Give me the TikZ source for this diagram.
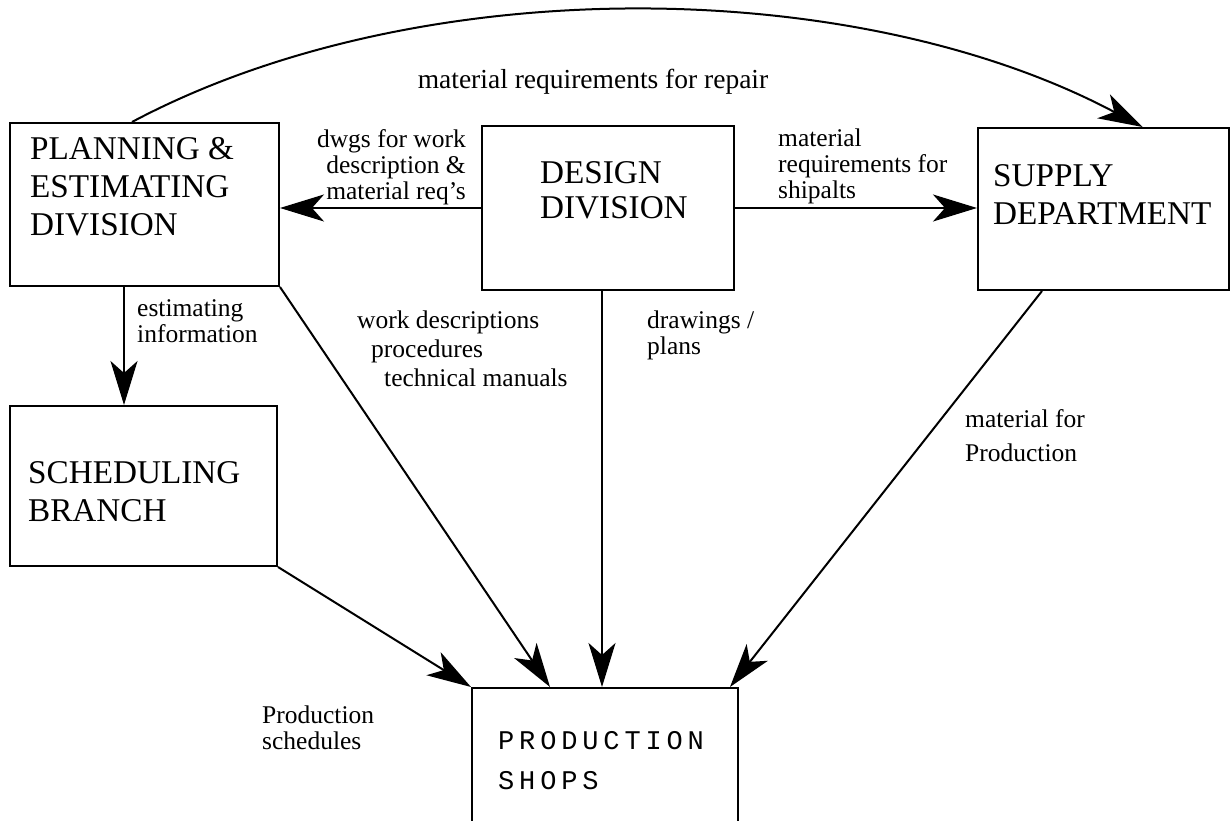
\documentclass[tikz,border=0pt]{standalone}
\usepackage{fontspec}
\setmainfont{Liberation Serif}
\newfontfamily\shopfont{Liberation Mono}[LetterSpace=18]
\usetikzlibrary{arrows.meta}

\begin{document}
\begin{tikzpicture}[x=1pt,y=1pt,
  unit/.style={draw, line width=2pt, inner sep=0pt},
  unittext/.style={font=\fontsize{33.2}{38}\selectfont, align=left,
    inner sep=0pt, anchor=north west},
  shoptext/.style={font=\shopfont\fontsize{27}{40}\selectfont, align=left,
    inner sep=0pt, anchor=north west},
  flow/.style={font=\fontsize{25.5}{26}\selectfont, inner sep=0pt},
  flowloose/.style={flow, font=\fontsize{25.5}{29}\selectfont},
  arr/.style={-{Stealth[length=44pt,width=27pt,inset=12pt]}, line width=2pt},
]
\useasboundingbox (0,0) rectangle (1231,820);
\clip (0,0) rectangle (1231,820);

\node[unit, minimum width=269pt, minimum height=163pt] at (144.5,615.5) (plan)   {};
\node[unit, minimum width=252pt, minimum height=164pt] at (608,612)     (design) {};
\node[unit, minimum width=251pt, minimum height=162pt] at (1103.5,611)  (supply) {};
\node[unit, minimum width=267pt, minimum height=160pt] at (143.5,334)   (sched)  {};
\node[unit, minimum width=266pt, minimum height=170pt] at (605,47)      (prod)   {};

\node[unittext] at (30,683)  (plantext)   {PLANNING \&\\ESTIMATING\\DIVISION};
\node[unittext, font=\fontsize{33.2}{35}\selectfont] at (540,659) (designtext) {DESIGN\\DIVISION};
\node[unittext] at (993,656) (supplytext) {SUPPLY\\DEPARTMENT};
\node[unittext] at (28,359)  (schedtext)  {SCHEDULING\\BRANCH};
\node[shoptext] at (498,89)  (prodtext)   {PRODUCTION\\SHOPS};

\node[flow, anchor=north, font=\fontsize{27.5}{28}\selectfont] at (593,751) (repairlbl)
  {material requirements for repair};
\node[flow, anchor=north east, align=right] at (466,691) (dwgslbl)
  {dwgs for work\\description \&\\material req's};
\node[flow, anchor=north west, align=left] at (778,691) (shipaltslbl)
  {material\\requirements for\\shipalts};
\node[flow, anchor=north west, align=left] at (137,521) (estlbl) {estimating\\information};
\node[flowloose, anchor=north west, align=left] at (357,509) (worklbl)
  {work descriptions\\\hspace*{14pt}procedures\\\hspace*{27pt}technical manuals};
\node[flow, anchor=north west, align=left] at (647,509) (drawlbl) {drawings /\\plans};
\node[flow, anchor=north west, align=left, font=\fontsize{25.5}{34}\selectfont]
  at (965,411) (matlbl) {material for\\Production};
\node[flow, anchor=north west, align=left] at (262,114) (schedlbl) {Production\\schedules};

\draw[arr] (design.west) -- (design.west -| plan.east);
\draw[arr] (design.east) -- (design.east -| supply.west);
\draw[arr] ([xshift=-20.5pt]plan.south) -- ([xshift=-20.5pt]plan.south |- sched.north);
\draw[arr] (plan.south east) -- ([xshift=-55pt]prod.north);
\draw[arr] ([xshift=-6pt]design.south) -- ([xshift=-6pt]design.south |- prod.north);
\draw[arr] ([xshift=-61.5pt]supply.south) -- ([xshift=-9pt]prod.north east);
\draw[arr] (sched.south east) -- (prod.north west);
\draw[arr] ([xshift=-12.5pt]plan.north) to[out=28,in=152,looseness=0.82] ([xshift=39pt]supply.north);
\end{tikzpicture}
\end{document}
